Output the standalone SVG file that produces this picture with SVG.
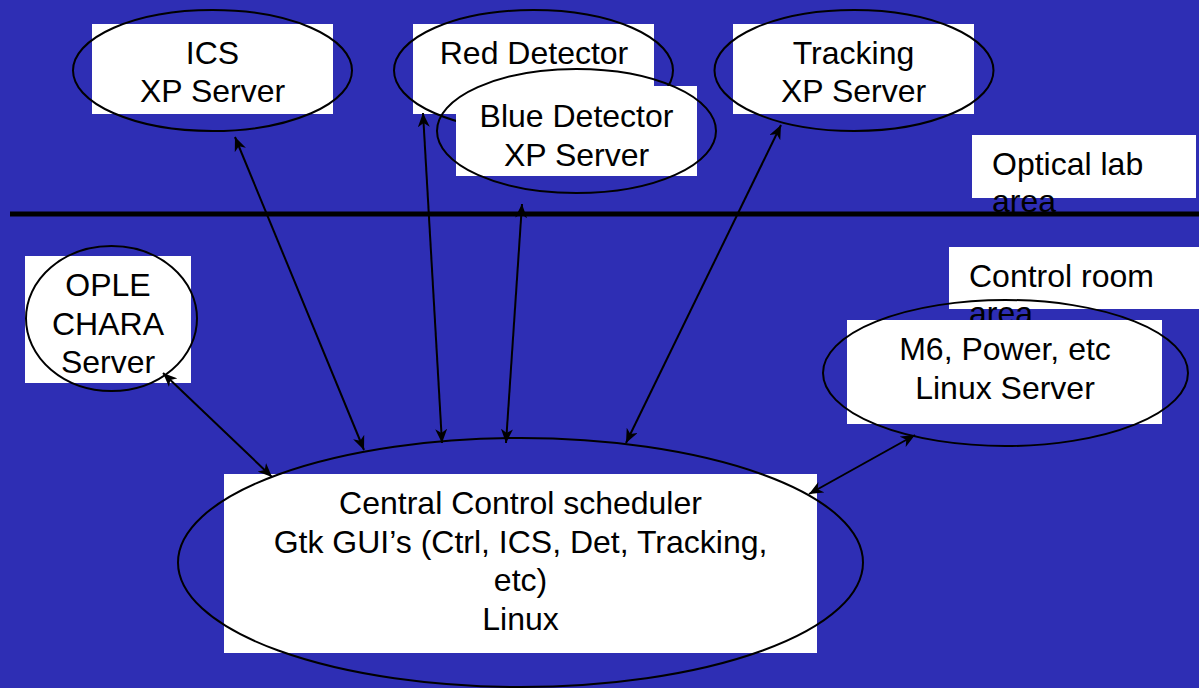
<svg xmlns="http://www.w3.org/2000/svg" width="1199" height="688" viewBox="0 0 1199 688">
<style>
.box{fill:#ffffff;stroke:none}
.ell{fill:none;stroke:#000;stroke-width:2}
.t{font-family:"Liberation Sans",Arial,sans-serif;font-size:32px;fill:#000}
.c{text-anchor:middle}
.con{stroke:#000;stroke-width:2;fill:none;marker-start:url(#ah);marker-end:url(#ah)}
</style>
<defs>
<marker id="ah" viewBox="0 0 14 12" refX="14" refY="6" markerWidth="14" markerHeight="12" markerUnits="userSpaceOnUse" orient="auto-start-reverse">
<path d="M0,0 L14,6 L0,12 L4,6 Z" fill="#000"/>
</marker>
</defs>
<rect x="0" y="0" width="1199" height="688" fill="#2E2EB4"/>

<g id="optical-lab-label">
<rect class="box" x="972" y="135" width="224" height="63"/>
<text class="t" x="992" y="175">Optical lab</text>
<text class="t" x="992" y="212">area</text>
</g>

<g id="divider">
<line x1="10" y1="214" x2="1199" y2="214" stroke="#000" stroke-width="5"/>
</g>

<g id="control-room-label">
<rect class="box" x="949" y="247" width="250" height="62"/>
<text class="t" x="969" y="287">Control room</text>
<text class="t" x="969" y="324">area</text>
</g>

<g id="ics">
<rect class="box" x="92" y="24" width="241" height="90"/>
<ellipse class="ell" cx="212.5" cy="70.5" rx="139.5" ry="60.5"/>
<text class="t c" x="212.5" y="64">ICS</text>
<text class="t c" x="212.5" y="102">XP Server</text>
</g>

<g id="red-detector">
<rect class="box" x="413" y="24" width="241" height="90"/>
<ellipse class="ell" cx="533.5" cy="70.5" rx="139.5" ry="60.5"/>
<text class="t c" x="534" y="64">Red Detector</text>
</g>

<g id="blue-detector">
<rect class="box" x="456" y="86" width="241" height="90"/>
<ellipse class="ell" cx="576.5" cy="131" rx="139.5" ry="62"/>
<text class="t c" x="576.5" y="127">Blue Detector</text>
<text class="t c" x="576.5" y="166">XP Server</text>
</g>

<g id="tracking">
<rect class="box" x="733" y="24" width="241" height="90"/>
<ellipse class="ell" cx="854" cy="70.5" rx="139.5" ry="60.5"/>
<text class="t c" x="853.5" y="64">Tracking</text>
<text class="t c" x="853.5" y="102">XP Server</text>
</g>

<g id="ople">
<rect class="box" x="25" y="256" width="166" height="127"/>
<ellipse class="ell" cx="111.5" cy="318.5" rx="85.5" ry="72.5"/>
<text class="t c" x="108" y="296">OPLE</text>
<text class="t c" x="108" y="335">CHARA</text>
<text class="t c" x="108" y="373">Server</text>
</g>

<g id="m6">
<rect class="box" x="847" y="320" width="315" height="104"/>
<ellipse class="ell" cx="1005.5" cy="373" rx="182.5" ry="73"/>
<text class="t c" x="1005" y="360">M6, Power, etc</text>
<text class="t c" x="1005" y="399">Linux Server</text>
</g>

<g id="central">
<rect class="box" x="224" y="474" width="593" height="179"/>
<ellipse class="ell" cx="520.5" cy="562.5" rx="342.5" ry="124.5"/>
<text class="t c" x="520.5" y="514">Central Control scheduler</text>
<text class="t c" x="520.5" y="553">Gtk GUI’s (Ctrl, ICS, Det, Tracking,</text>
<text class="t c" x="520.5" y="591">etc)</text>
<text class="t c" x="520.5" y="630">Linux</text>
</g>

<g id="connectors">
<path class="con" d="M235,137 L364,450"/>
<path class="con" d="M423,113 L442,443"/>
<path class="con" d="M522,204 L506,443"/>
<path class="con" d="M781,125 L626,443"/>
<path class="con" d="M163,373 L272,477"/>
<path class="con" d="M915,435 L809,494"/>
</g>
</svg>
